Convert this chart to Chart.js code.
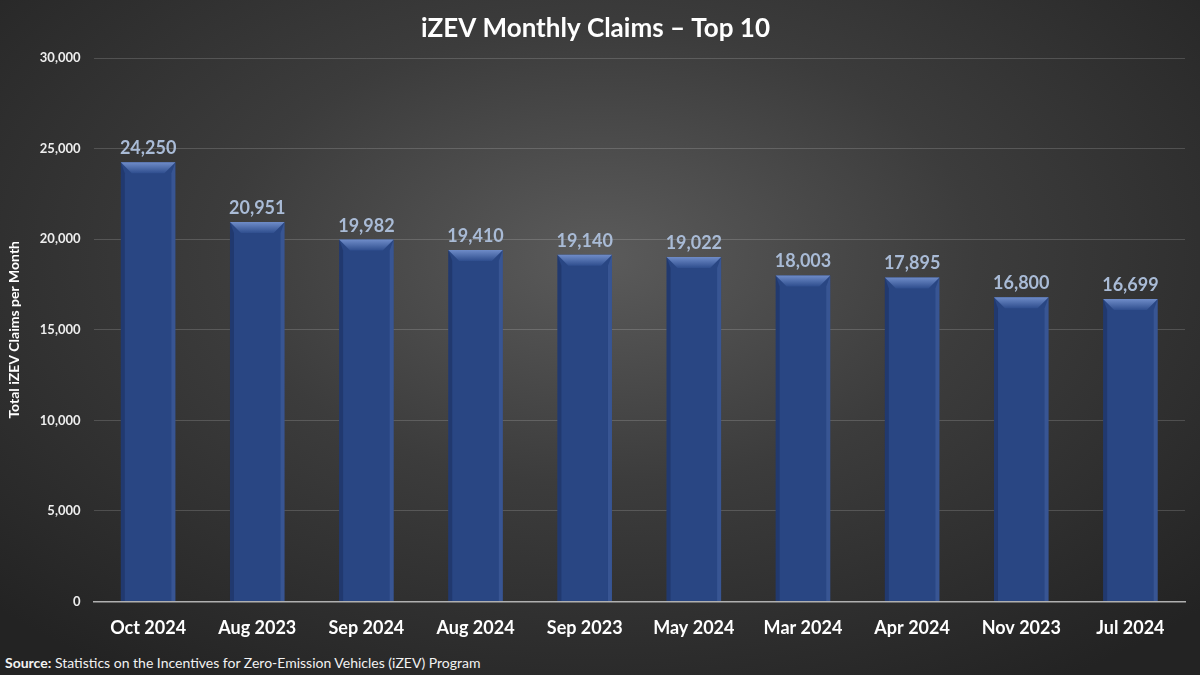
<!DOCTYPE html>
<html>
<head>
<meta charset="utf-8">
<script src="https://cdn.jsdelivr.net/npm/chart.js@4.4.0/dist/chart.umd.min.js"></script>
<style>
  html, body { margin: 0; padding: 0; }
  body {
    width: 1200px; height: 675px; overflow: hidden; position: relative;
    background: radial-gradient(ellipse 70% 75% at 50% 38%, #5b5b5b 0%, #3c3c3c 45%, #232323 100%);
    font-family: Lato, "Open Sans", sans-serif;
  }
  #wrap { position: absolute; left: 0; top: 0; width: 1200px; height: 647px; }
  #source {
    position: absolute; left: 5px; top: 654px; color: #f2f2f2; font-size: 14px;
  }
  #source b { font-weight: 700; }
</style>
</head>
<body>
<div id="wrap"><canvas id="claimsChart"></canvas></div>
<div id="source"><b>Source:</b> Statistics on the Incentives for Zero-Emission Vehicles (iZEV) Program</div>
<script>
// chart data
const months = ['Oct 2024', 'Aug 2023', 'Sep 2024', 'Aug 2024', 'Sep 2023', 'May 2024', 'Mar 2024', 'Apr 2024', 'Nov 2023', 'Jul 2024'];
const claims = [24250, 20951, 19982, 19410, 19140, 19022, 18003, 17895, 16800, 16699];
const yTicks = [0, 5000, 10000, 15000, 20000, 25000, 30000];

const fmt = v => v.toLocaleString('en-US');

// bevel look on top of each bar, like the Excel "circle" bevel
const bevelBars = {
    id: 'bevelBars',
    afterDatasetsDraw(chart) {
        const ctx = chart.ctx;
        chart.getDatasetMeta(0).data.forEach(bar => {
            const p = bar.getProps(['x', 'y', 'base', 'width'], true);
            const l = p.x - p.width / 2, r = p.x + p.width / 2;
            const t = p.y, b = p.base;
            const d = 11, s = 4;
            ctx.save();
            // left edge
            ctx.fillStyle = 'rgba(20,35,75,0.35)';
            ctx.beginPath();
            ctx.moveTo(l, t); ctx.lineTo(l + s, t + d); ctx.lineTo(l + s, b); ctx.lineTo(l, b);
            ctx.closePath(); ctx.fill();
            // right edge
            ctx.fillStyle = 'rgba(110,140,205,0.22)';
            ctx.beginPath();
            ctx.moveTo(r, t); ctx.lineTo(r - s, t + d); ctx.lineTo(r - s, b); ctx.lineTo(r, b);
            ctx.closePath(); ctx.fill();
            // top bevel
            const g = ctx.createLinearGradient(0, t, 0, t + d);
            g.addColorStop(0, '#6f8cc8');
            g.addColorStop(1, '#2f4e8e');
            ctx.fillStyle = g;
            ctx.beginPath();
            ctx.moveTo(l, t); ctx.lineTo(r, t); ctx.lineTo(r - d, t + d); ctx.lineTo(l + d, t + d);
            ctx.closePath(); ctx.fill();
            ctx.restore();
        });
    }
};

// value labels above the bars
const valueLabels = {
    id: 'valueLabels',
    afterDatasetsDraw(chart) {
        const ctx = chart.ctx;
        const ds = chart.data.datasets[0];
        ctx.save();
        ctx.font = 'bold 18px Lato, "Open Sans", sans-serif';
        ctx.fillStyle = '#a9bbd6';
        ctx.textAlign = 'center';
        ctx.textBaseline = 'alphabetic';
        chart.getDatasetMeta(0).data.forEach((bar, i) => {
            ctx.fillText(fmt(ds.data[i]), bar.x, bar.y - 8);
        });
        ctx.restore();
    }
};

const ctx = document.getElementById('claimsChart').getContext('2d');

new Chart(ctx, {
    type: 'bar',
    data: {
        labels: months,
        datasets: [{
            label: 'Claims',
            data: claims,
            backgroundColor: '#294683',
            borderWidth: 0,
            barPercentage: 0.5,
            categoryPercentage: 1.0
        }]
    },
    plugins: [bevelBars, valueLabels],
    options: {
        responsive: true,
        maintainAspectRatio: false,
        animation: false,
        layout: { padding: { left: 6, right: 15, top: 4, bottom: 0 } },
        plugins: {
            legend: { display: false },
            tooltip: { enabled: false },
            title: {
                display: true,
                text: 'iZEV Monthly Claims – Top 10',
                color: '#ffffff',
                font: { family: 'Lato, "Open Sans", sans-serif', size: 26, weight: 'bold' },
                padding: { top: 9, bottom: 14 }
            }
        },
        scales: {
            x: {
                grid: { display: false },
                border: { color: '#b0b0b0', width: 1.5 },
                ticks: {
                    color: '#ffffff',
                    font: { family: 'Lato, "Open Sans", sans-serif', size: 18, weight: 'bold' },
                    padding: 8,
                    maxRotation: 0
                }
            },
            y: {
                min: 0,
                max: 30000,
                afterBuildTicks: axis => { axis.ticks = yTicks.map(v => ({ value: v })); },
                grid: { color: 'rgba(255,255,255,0.16)', lineWidth: 1, drawTicks: false },
                border: { display: false },
                ticks: {
                    color: '#eeeeee',
                    font: { family: 'Lato, "Open Sans", sans-serif', size: 13, weight: 'bold' },
                    padding: 13,
                    callback: v => fmt(v)
                },
                title: {
                    display: true,
                    text: 'Total iZEV Claims per Month',
                    color: '#ffffff',
                    font: { family: 'Lato, "Open Sans", sans-serif', size: 14, weight: 'bold' },
                    padding: { top: 0, bottom: 4 }
                }
            }
        }
    }
});
</script>
</body>
</html>
